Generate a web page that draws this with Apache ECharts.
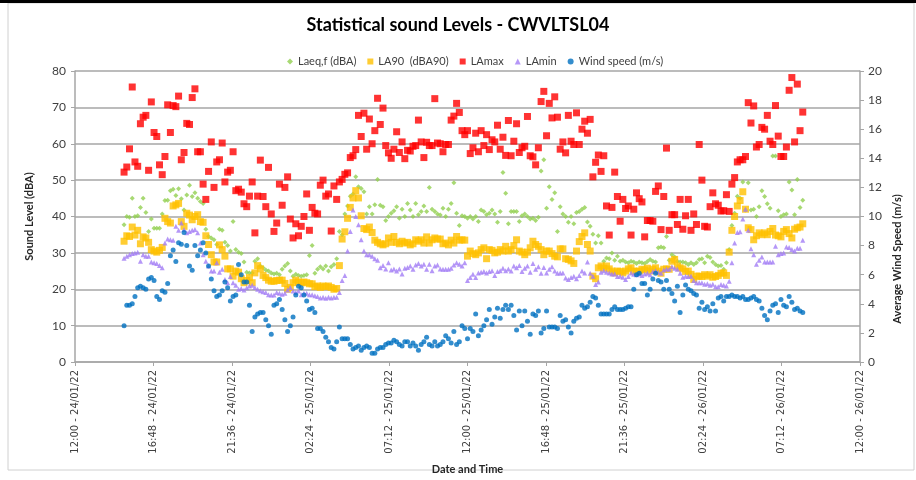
<!DOCTYPE html>
<html>
<head>
<meta charset="utf-8">
<title>Statistical sound Levels - CWVLTSL04</title>
<script src="https://cdn.jsdelivr.net/npm/echarts@6/dist/echarts.min.js"></script>
<style>
html,body{margin:0;padding:0;background:#fff;}
#main{width:916px;height:480px;}
</style>
</head>
<body>
<div id="main"></div>
<script>
// hours after 12:00 24/01/22, 10 minute records
var startHour = 3;
var stepHour = 10 / 60;

var xTickLabels = ['12:00 - 24/01/22', '16:48 - 24/01/22', '21:36 - 24/01/22', '02:24 - 25/01/22', '07:12 - 25/01/22',
    '12:00 - 25/01/22', '16:48 - 25/01/22', '21:36 - 25/01/22', '02:24 - 26/01/22', '07:12 - 26/01/22', '12:00 - 26/01/22'];

var laeq = [37.7,40.0,39.8,45.0,40.0,40.2,42.5,45.0,41.1,35.9,39.3,36.8,36.8,36.8,40.7,44.4,44.5,47.1,47.5,45.8,
    47.6,44.9,41.8,45.9,48.6,45.5,46.5,45.0,44.1,43.6,36.5,34.5,34.1,33.6,32.3,36.5,36.2,32.9,32.0,30.5,
    38.6,30.9,30.2,29.8,27.5,24.7,24.5,24.5,27.7,28.4,26.4,25.9,25.3,25.0,24.5,24.2,24.4,24.0,25.5,26.4,
    27.1,25.0,23.6,24.1,23.8,23.6,23.8,24.0,29.3,32.0,
    24.4,25.5,26.2,25.6,26.4,25.0,26.2,26.8,28.4,35.9,35.0,40.7,42.9,45.6,46.2,50.9,48.2,47.7,46.8,40.7,
    42.7,40.7,43.2,50.2,43.1,42.7,38.9,40.0,40.9,41.6,42.7,39.5,42.0,40.0,43.6,41.8,40.0,43.6,40.5,41.4,
    42.9,41.4,48.0,42.0,41.4,40.7,40.4,42.3,40.0,42.0,43.6,49.3,40.9,37.5,40.2,40.0,39.5,40.0,39.3,40.0,
    38.6,41.8,41.4,40.5,40.9,41.8,40.7,38.4,41.4,52.1,46.4,
    38.0,41.4,41.4,41.4,38.6,40.2,40.7,40.0,39.3,39.5,38.9,39.8,52.5,55.6,42.3,48.2,44.7,46.5,35.9,42.7,
    40.7,40.0,38.4,40.0,38.0,41.1,41.4,42.0,42.5,38.5,37.3,35.1,32.7,34.7,32.7,27.7,28.6,28.4,30.0,28.0,
    29.1,27.7,28.0,27.5,27.3,27.7,27.5,27.1,27.5,27.3,27.1,27.6,28.2,27.7,27.5,31.4,31.6,31.4,34.5,28.0,
    29.5,28.9,27.7,27.5,27.5,27.3,26.8,27.3,26.8,27.3,
    28.2,28.4,27.3,29.1,28.7,27.5,26.8,26.4,26.5,25.5,27.3,30.9,37.5,40.9,45.6,45.0,49.5,41.8,49.3,41.8,
    42.0,40.0,42.7,47.1,45.5,43.5,42.3,56.6,56.6,41.6,40.0,40.5,40.7,49.5,47.3,40.5,50.2,42.5,44.5];

var la90 = [33.2,34.7,34.5,37.1,34.9,36.2,32.5,34.4,34.1,32.9,30.9,30.5,30.2,30.7,31.5,39.5,38.6,38.2,42.9,43.2,
    43.6,38.6,37.3,40.9,40.4,39.1,40.0,40.5,38.6,38.4,34.7,32.3,29.5,27.5,27.5,32.2,30.9,29.1,25.6,25.6,
    23.6,25.0,24.7,22.9,21.8,22.4,23.2,21.8,24.5,26.5,25.6,23.8,23.2,22.5,22.2,22.2,22.4,22.5,22.5,21.6,
    20.0,20.5,21.8,22.5,22.0,21.8,22.0,21.8,21.5,21.5,
    20.7,20.9,20.5,20.9,20.7,20.9,20.5,20.0,20.2,26.5,33.8,35.8,39.5,42.5,45.1,47.1,45.1,40.2,36.7,36.4,
    37.1,35.6,33.5,32.9,32.5,32.2,32.5,34.1,32.9,34.5,32.9,32.5,33.2,32.7,32.9,32.2,32.5,33.6,33.2,33.6,
    32.7,34.4,32.7,33.6,34.1,33.8,33.8,32.5,32.7,32.2,33.5,32.7,34.5,33.5,33.6,33.5,29.1,30.5,29.8,29.5,
    30.0,30.9,31.4,28.4,30.9,30.7,30.0,30.2,30.9,30.5,31.8,
    30.5,30.9,32.0,33.6,30.5,30.2,29.5,30.2,31.4,33.2,32.3,31.8,30.9,29.5,30.5,30.5,29.8,29.1,28.9,31.1,
    31.1,28.4,28.2,27.8,27.1,30.5,33.1,34.5,35.5,32.3,30.5,23.6,22.9,25.9,26.4,25.8,26.4,25.6,25.0,24.5,
    25.0,24.9,24.5,25.0,25.6,25.9,25.0,24.9,25.0,25.5,25.3,25.8,25.0,25.5,25.9,25.0,24.4,25.5,25.6,25.5,
    27.7,28.2,26.4,25.9,25.6,24.9,25.0,24.1,22.7,23.6,
    23.6,23.5,24.0,23.6,24.0,23.3,23.5,23.8,24.4,24.5,23.8,30.2,36.2,40.0,42.9,44.4,46.8,42.0,36.9,36.4,
    33.6,34.7,35.5,35.0,35.5,35.0,35.9,36.7,34.9,34.7,34.4,35.9,36.4,35.3,34.1,36.5,36.9,37.1,38.0];

var lamax = [52.2,53.6,58.6,75.6,55.0,53.8,65.5,67.3,67.8,52.7,71.5,63.1,62.0,54.2,51.5,56.5,70.7,63.1,70.5,70.2,
    73.1,55.6,57.6,65.6,65.3,72.7,75.1,57.8,57.8,48.9,44.7,52.4,60.5,48.0,55.0,55.6,60.2,49.5,52.2,52.7,
    57.8,47.1,47.5,46.7,43.5,42.7,45.6,49.5,35.5,45.6,55.5,45.5,42.7,53.5,40.7,35.9,38.2,48.9,43.1,48.0,
    50.9,39.3,34.1,38.0,34.7,37.3,40.0,46.2,36.2,42.5,
    40.9,40.7,48.6,50.0,45.6,46.2,36.0,48.4,44.7,49.5,50.2,51.6,52.0,56.2,56.7,58.4,67.8,62.0,68.4,58.5,
    66.8,60.0,63.6,72.5,65.3,69.8,59.5,57.5,56.0,58.5,63.3,57.6,60.5,55.9,58.2,58.0,59.3,59.5,66.5,60.5,
    56.2,60.4,59.5,59.5,72.4,60.2,60.0,57.8,59.8,59.8,66.5,67.6,71.1,68.6,63.6,62.5,63.6,57.3,58.9,62.9,
    57.8,63.6,59.5,62.5,58.4,61.1,60.5,65.1,58.5,61.8,56.8,
    66.4,56.7,60.7,65.5,57.6,58.9,59.3,67.5,56.7,56.4,54.2,58.9,71.6,74.4,62.2,71.1,67.1,72.9,67.3,58.5,
    60.5,57.5,67.8,60.7,59.8,68.5,59.8,64.0,66.2,62.9,66.7,50.9,54.9,56.9,52.4,56.7,42.9,34.9,42.5,52.2,
    45.5,38.7,44.7,42.2,42.9,34.9,42.0,46.5,44.9,44.0,34.4,38.9,38.9,38.7,46.9,48.4,36.4,45.5,58.8,36.2,
    40.5,40.5,37.8,44.7,36.5,40.2,44.7,36.2,40.7,37.8,59.8,50.0,37.3,37.1,42.7,46.5,43.5,43.1,41.5,
    41.6,46.0,41.4,48.9,50.7,55.0,55.6,55.6,56.5,71.3,65.7,70.4,59.1,59.8,64.5,64.0,67.8,60.7,59.8,70.5,
    62.1,56.5,56.5,59.1,74.7,78.2,60.5,76.4,63.6,68.7];

var lamin = [28.5,29.1,29.5,29.8,30.0,30.2,27.7,29.5,29.1,29.1,27.5,27.3,27.1,26.5,25.9,32.7,33.8,33.6,33.5,37.3,
    36.2,38.2,36.4,35.5,35.9,36.2,36.4,35.5,32.7,29.5,27.7,26.4,25.0,25.0,27.3,24.7,25.5,22.7,21.8,23.5,
    21.8,21.1,20.0,20.2,19.8,20.4,20.9,21.1,20.5,20.0,19.6,19.3,19.1,18.5,18.4,18.4,19.1,18.9,18.6,18.9,
    19.8,20.5,19.5,19.1,19.5,18.5,18.9,18.9,18.5,18.5,
    18.2,18.0,17.6,17.8,17.5,17.8,17.6,17.8,17.8,19.1,22.4,23.8,30.5,35.9,41.8,40.0,37.7,33.6,30.5,29.5,
    29.5,29.1,28.4,28.0,25.9,26.5,25.6,27.3,25.3,25.6,25.0,25.6,24.2,25.8,26.0,26.4,25.5,26.7,27.1,26.4,
    26.9,25.5,26.9,25.1,26.4,26.7,25.6,25.5,25.5,25.5,25.8,26.7,27.3,26.9,26.4,27.3,22.4,23.2,24.1,23.2,
    24.5,24.7,24.9,24.5,24.9,25.1,23.8,24.9,25.1,25.8,25.1,
    25.6,25.0,26.4,25.9,26.5,24.9,25.8,26.4,24.7,27.1,25.5,26.2,24.4,26.0,24.5,25.5,26.2,25.0,24.4,24.5,
    24.5,23.1,22.7,23.2,23.6,22.9,23.8,25.0,24.5,27.5,24.4,23.6,21.3,22.0,24.7,25.1,24.7,24.5,24.2,24.2,
    23.5,23.6,23.3,22.7,23.5,24.5,24.1,24.0,24.2,23.8,24.2,24.4,24.0,24.9,25.1,24.7,24.4,25.3,25.6,25.5,
    26.2,25.8,25.5,24.4,23.3,23.6,23.5,23.6,22.4,21.8,
    21.8,21.8,21.4,21.5,21.1,21.4,20.7,20.7,21.3,21.1,20.9,22.2,27.3,32.7,35.6,35.8,39.3,42.0,36.2,31.1,
    29.5,26.9,28.0,28.9,27.5,27.5,27.5,27.5,31.8,29.5,29.8,30.0,31.6,31.5,30.9,30.5,31.3,31.3,33.5];

// m/s, right axis
var wind = [2.5,3.9,3.9,4.0,4.5,5.1,5.2,5.1,5.0,5.7,5.8,5.6,4.5,4.3,4.9,4.8,5.4,7.3,7.7,6.9,
    8.2,8.1,8.9,8.0,6.6,6.3,8.0,7.3,7.7,8.2,7.5,6.6,5.7,4.9,4.5,4.6,4.9,5.5,5.1,4.2,
    4.5,4.6,6.7,6.0,5.5,5.5,3.9,2.1,3.1,3.3,3.4,3.4,2.9,2.5,1.9,3.9,4.0,4.3,3.6,2.9,
    2.1,2.5,3.1,4.6,5.2,5.1,4.6,4.2,3.6,3.7,
    3.4,2.3,2.3,2.1,1.7,1.4,1.0,0.9,1.4,2.4,1.6,1.6,1.6,1.2,0.9,1.0,1.1,0.8,1.0,1.1,
    1.0,0.6,0.6,0.9,1.0,1.0,1.2,1.3,1.3,1.5,1.4,1.2,1.1,1.4,1.4,1.1,1.3,1.1,0.8,1.2,
    1.4,1.7,1.2,1.1,1.4,1.1,1.2,1.4,1.8,1.6,1.3,2.1,1.2,1.4,2.5,2.3,1.6,2.3,2.1,3.3,
    1.8,2.2,2.5,2.9,3.6,2.6,3.1,3.7,3.0,3.6,3.9,
    3.6,3.9,3.2,2.2,3.5,2.5,3.5,2.8,1.9,3.3,3.2,3.5,2.0,2.3,3.5,2.4,2.4,2.4,2.3,3.2,
    2.8,2.9,2.4,2.0,2.8,3.0,3.1,3.9,3.7,3.8,4.1,4.5,4.4,3.9,3.3,3.3,3.3,3.3,3.6,3.8,
    3.6,3.6,3.6,3.7,3.8,3.8,5.0,6.0,6.1,5.4,5.4,4.6,5.0,5.7,6.1,5.6,5.5,5.0,5.6,5.0,
    4.7,4.2,5.2,3.4,4.6,5.3,5.0,4.9,4.7,4.6,
    3.7,4.1,3.6,3.8,3.5,4.0,3.5,4.4,4.5,4.2,4.5,4.5,4.6,4.5,4.5,4.4,4.5,4.3,4.3,4.4,
    4.5,4.3,4.2,3.7,3.2,2.9,3.5,3.9,4.0,3.4,4.3,3.9,3.8,4.5,4.1,3.6,3.7,3.5,3.4];

function pts(arr) {
    return arr.map(function (v, i) { return [startHour + i * stepHour, v]; });
}

var font = 'Lato';
var gridColor = '#a6a6a6';

var myChart = echarts.init(document.getElementById('main'));
var option = {
    backgroundColor: '#fff',
    animation: false,
    title: {
        text: 'Statistical sound Levels - CWVLTSL04',
        left: 'center',
        top: 11,
        textStyle: { fontFamily: font, fontSize: 18, fontWeight: 'bold', color: '#000' }
    },
    legend: {
        left: 282,
        top: 51,
        itemWidth: 6,
        itemHeight: 6,
        itemGap: 11,
        textStyle: { fontFamily: font, fontSize: 11, color: '#404040' },
        data: [
            { name: 'Laeq,f (dBA)', icon: 'diamond' },
            { name: 'LA90  (dBA90)', icon: 'rect' },
            { name: 'LAmax', icon: 'rect' },
            { name: 'LAmin', icon: 'triangle' },
            { name: 'Wind speed (m/s)', icon: 'circle' }
        ]
    },
    grid: { left: 75, right: 56, top: 71, bottom: 117 },
    xAxis: {
        type: 'value',
        min: 0,
        max: 48,
        interval: 4.8,
        name: 'Date and Time',
        nameLocation: 'middle',
        nameGap: 102,
        nameTextStyle: { fontFamily: font, fontSize: 11, fontWeight: 'bold', color: '#262626' },
        axisLine: { lineStyle: { color: gridColor, width: 1.5 } },
        axisTick: { show: true, length: 4, lineStyle: { color: gridColor } },
        splitLine: { show: false },
        axisLabel: {
            rotate: 90,
            margin: 8,
            fontFamily: 'DejaVu Sans',
            fontSize: 10,
            color: '#404040',
            formatter: function (v) { return xTickLabels[Math.round(v / 4.8)]; }
        }
    },
    yAxis: [
        {
            type: 'value',
            min: 0,
            max: 80,
            interval: 10,
            name: 'Sound Level (dBA)',
            nameLocation: 'middle',
            nameGap: 40,
            nameTextStyle: { fontFamily: font, fontSize: 11, fontWeight: 'bold', color: '#262626' },
            axisLine: { show: true, lineStyle: { color: gridColor, width: 1.5 } },
            axisTick: { show: true, length: 4, lineStyle: { color: gridColor } },
            splitLine: { lineStyle: { color: gridColor, width: 1.5 } },
            axisLabel: { fontFamily: font, fontSize: 12, color: '#404040', margin: 9 }
        },
        {
            type: 'value',
            min: 0,
            max: 20,
            interval: 2,
            position: 'right',
            axisLine: { show: true, lineStyle: { color: gridColor, width: 1.5 } },
            axisTick: { show: true, length: 4, lineStyle: { color: gridColor } },
            splitLine: { show: false },
            axisLabel: { fontFamily: font, fontSize: 12, color: '#404040', margin: 8 }
        }
    ],
    graphic: [
        { type: 'rect', shape: { x: 8, y: 3, width: 906, height: 467 }, style: { fill: 'none', stroke: '#d0d0d0', lineWidth: 1 }, silent: true },
        { type: 'rect', shape: { x: 0, y: 0, width: 916, height: 3 }, style: { fill: '#000' }, silent: true },
        {
            type: 'text',
            x: 897,
            y: 259,
            rotation: Math.PI / 2,
            style: {
                text: 'Average Wind Speed (m/s)',
                font: 'bold 11px Lato',
                fill: '#262626',
                textAlign: 'center',
                textVerticalAlign: 'middle'
            }
        }
    ],
    series: [
        { name: 'Laeq,f (dBA)', type: 'scatter', symbol: 'diamond', symbolSize: 5, itemStyle: { color: '#92d050' }, data: pts(laeq) },
        { name: 'LA90  (dBA90)', type: 'scatter', symbol: 'rect', symbolSize: 7, itemStyle: { color: '#ffc000' }, data: pts(la90) },
        { name: 'LAmax', type: 'scatter', symbol: 'rect', symbolSize: 7, itemStyle: { color: '#ff0000' }, data: pts(lamax) },
        { name: 'LAmin', type: 'scatter', symbol: 'triangle', symbolSize: 5, itemStyle: { color: '#a27df5' }, data: pts(lamin) },
        { name: 'Wind speed (m/s)', type: 'scatter', yAxisIndex: 1, symbol: 'circle', symbolSize: 5, itemStyle: { color: '#0070c0' }, data: pts(wind) }
    ]
};
myChart.setOption(option);
</script>
</body>
</html>
